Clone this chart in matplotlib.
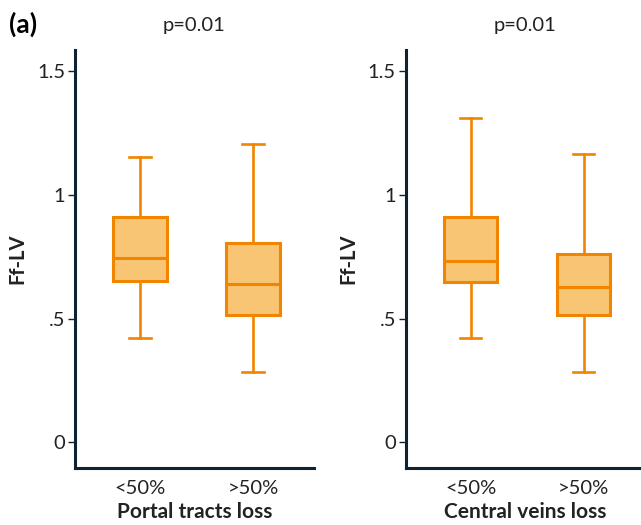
import matplotlib
matplotlib.use("Agg")
import matplotlib.pyplot as plt

plt.rcParams['font.family'] = ['Lato', 'DejaVu Sans']

categories = ["<50%", ">50%"]
panels = ["Portal tracts loss", "Central veins loss"]
p_labels = ["p=0.01", "p=0.01"]

# [low whisker, Q1, median, Q3, high whisker] per group
portal_low = [0.42, 0.285]
portal_q1 = [0.651, 0.515]
portal_med = [0.744, 0.640]
portal_q3 = [0.910, 0.805]
portal_high = [1.153, 1.205]

central_low = [0.42, 0.285]
central_q1 = [0.649, 0.514]
central_med = [0.733, 0.629]
central_q3 = [0.910, 0.761]
central_high = [1.310, 1.165]

yticks = [0, 0.5, 1, 1.5]
yticklabels = ["0", ".5", "1", "1.5"]

edge = "#F28500"
fill = "#F8C575"
spine = "#0D2233"

fig = plt.figure(figsize=(6.41, 5.25), dpi=100)
W = 239 / 641
H = (468 - 50) / 525
B = 1 - 468 / 525
ax1 = fig.add_axes([75 / 641, B, W, H])
ax2 = fig.add_axes([405.7 / 641, B, W, H])

data = [
    (portal_low, portal_q1, portal_med, portal_q3, portal_high),
    (central_low, central_q1, central_med, central_q3, central_high),
]

for ax, (lo, q1, med, q3, hi), xlabel, pl in zip([ax1, ax2], data, panels, p_labels):
    stats = []
    for i in range(len(categories)):
        stats.append(dict(whislo=lo[i], q1=q1[i], med=med[i], q3=q3[i], whishi=hi[i],
                          fliers=[], label=categories[i]))
    ax.bxp(stats, positions=[0, 1], widths=0.47, patch_artist=True, showfliers=False,
           capwidths=0.19,
           boxprops=dict(facecolor=fill, edgecolor=edge, linewidth=2.2),
           medianprops=dict(color=edge, linewidth=2.2),
           whiskerprops=dict(color=edge, linewidth=1.9),
           capprops=dict(color=edge, linewidth=1.9))
    ax.set_xlim(-0.575, 1.54)
    ax.set_ylim(-0.105, 1.587)
    ax.set_yticks(yticks)
    ax.set_yticklabels(yticklabels)
    ax.set_xticks([0, 1])
    ax.set_xticklabels(categories)
    for s in ["top", "right"]:
        ax.spines[s].set_visible(False)
    for s in ["left", "bottom"]:
        ax.spines[s].set_color(spine)
        ax.spines[s].set_linewidth(2.2)
    ax.tick_params(axis='y', length=5, width=1, color=spine, labelsize=14.5, pad=2, labelcolor="#222222")
    ax.tick_params(axis='x', length=0, labelsize=14.5, pad=9, labelcolor="#222222")
    ax.set_xlabel(xlabel, fontsize=15, fontweight='bold', labelpad=3, color="#222222")
    ax.set_ylabel("Ff-LV", fontsize=14.5, fontweight='bold', labelpad=7, color="#222222")
    ax.set_title(pl, fontsize=14.5, pad=14, color="#222222")

fig.text(9 / 641, 1 - 24 / 525, "(a)", fontsize=19, fontweight='bold', va='center', ha='left')

fig.savefig("out.png", dpi=100)
